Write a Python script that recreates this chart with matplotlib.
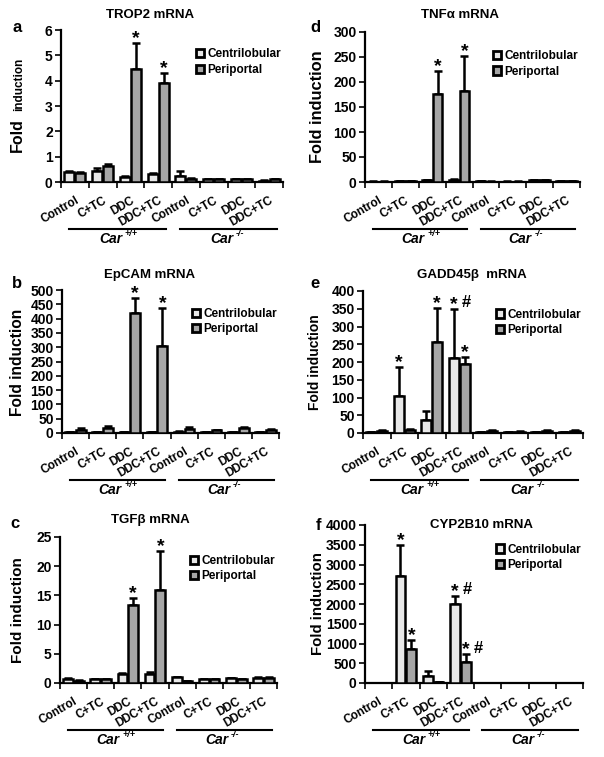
import numpy as np
import matplotlib.pyplot as plt
from matplotlib.patches import Patch

plt.rcParams['font.family'] = ['Liberation Sans', 'DejaVu Sans']
plt.rcParams['font.weight'] = 'bold'

W, H = 604, 757

# datos
grupos = ["Control", "C+TC", "DDC", "DDC+TC", "Control", "C+TC", "DDC", "DDC+TC"]

trop2_cen = [0.40, 0.45, 0.20, 0.30, 0.25, 0.10, 0.10, 0.05]
trop2_cen_err = [0.04, 0.10, 0.03, 0.05, 0.17, 0.02, 0.02, 0.02]
trop2_per = [0.35, 0.62, 4.45, 3.90, 0.12, 0.10, 0.10, 0.10]
trop2_per_err = [0.05, 0.08, 1.05, 0.40, 0.03, 0.02, 0.02, 0.03]

tnf_cen = [1, 2, 4, 5, 2, 1, 4, 2]
tnf_cen_err = [0.5, 0.5, 1, 1, 0.5, 0.5, 1, 0.5]
tnf_per = [1, 2, 175, 181, 1, 1, 4, 2]
tnf_per_err = [0.5, 0.5, 47, 71, 0.5, 0.5, 1, 0.5]

epcam_cen = [3, 3, 2, 2, 5, 3, 3, 3]
epcam_cen_err = [1, 1, 1, 1, 1, 1, 1, 1]
epcam_per = [12, 18, 418, 305, 15, 10, 18, 10]
epcam_per_err = [5, 5, 54, 132, 5, 2, 3, 4]

gadd_cen = [2, 105, 37, 210, 2, 2, 3, 2]
gadd_cen_err = [1, 80, 25, 140, 1, 1, 1, 1]
gadd_per = [6, 8, 255, 195, 6, 4, 7, 6]
gadd_per_err = [2, 2, 98, 18, 2, 1, 2, 3]

tgf_cen = [0.7, 0.6, 1.5, 1.6, 1.0, 0.6, 0.8, 0.9]
tgf_cen_err = [0.1, 0.1, 0.2, 0.2, 0.1, 0.1, 0.1, 0.1]
tgf_per = [0.4, 0.6, 13.3, 15.9, 0.3, 0.6, 0.6, 0.8]
tgf_per_err = [0.1, 0.1, 1.3, 6.7, 0.1, 0.1, 0.1, 0.2]

cyp_cen = [10, 2700, 180, 2000, 5, 5, 5, 5]
cyp_cen_err = [2, 800, 120, 200, 2, 2, 2, 2]
cyp_per = [10, 870, 15, 530, 5, 5, 5, 5]
cyp_per_err = [2, 230, 3, 200, 2, 2, 2, 2]

# marcas (grupo, barra 0=cen 1=per, texto)
marcas_a = [(2, 1, "*"), (3, 1, "*")]
marcas_d = [(2, 1, "*"), (3, 1, "*")]
marcas_b = [(2, 1, "*"), (3, 1, "*")]
marcas_e = [(1, 0, "*"), (2, 1, "*"), (3, 0, "*#"), (3, 1, "*")]
marcas_c = [(2, 1, "*"), (3, 1, "*")]
marcas_f = [(1, 0, "*"), (1, 1, "*"), (3, 0, "*#"), (3, 1, "*#")]

col_cen = "#e8e8e8"
col_per = "#a6a6a6"


def px_ax(fig, l, r, t, b):
    return fig.add_axes([l / W, 1 - b / H, (r - l) / W, (b - t) / H])


def panel(ax, cen, cen_err, per, per_err, ymax, ystep, marcas):
    x = np.arange(len(grupos))
    w = 0.36
    kw = dict(edgecolor="black", linewidth=1.8, zorder=3)
    ax.bar(x - w / 2 - 0.02, cen, w, color=col_cen, **kw)
    ax.bar(x + w / 2 + 0.02, per, w, color=col_per, **kw)
    ebk = dict(fmt="none", ecolor="black", elinewidth=1.8, capsize=3, capthick=1.8, zorder=2)
    ax.errorbar(x - w / 2 - 0.02, cen, yerr=[np.zeros(len(x)), cen_err], **ebk)
    ax.errorbar(x + w / 2 + 0.02, per, yerr=[np.zeros(len(x)), per_err], **ebk)
    ax.set_xlim(-0.5, 7.5)
    ax.set_ylim(0, ymax)
    ax.set_yticks(np.arange(0, ymax + ystep / 2, ystep))
    ax.set_xticks(x)
    ax.set_xticklabels(grupos, rotation=30, ha="right", rotation_mode="anchor", fontsize=8.5)
    ax.set_xticks(np.arange(-0.5, 8), minor=True)
    ax.tick_params(axis="x", which="major", length=0, pad=9)
    ax.tick_params(axis="x", which="minor", length=4, width=1.2, direction="out")
    ax.tick_params(axis="y", length=4, width=1.2, direction="out", labelsize=10, pad=2)
    for s in ["top", "right"]:
        ax.spines[s].set_visible(False)
    for s in ["left", "bottom"]:
        ax.spines[s].set_linewidth(1.6)
    # marcas de significancia
    for g, b, t in marcas:
        vals = (cen, per)[b]
        errs = (cen_err, per_err)[b]
        xb = g + (-1 if b == 0 else 1) * (w / 2 + 0.02)
        yb = vals[g] + errs[g]
        ax.annotate("*", (xb, yb), xytext=(0, -3), textcoords="offset points",
                    ha="center", va="bottom", fontsize=14, annotation_clip=False)
        if "#" in t:
            ax.annotate("#", (xb, yb), xytext=(9, -1), textcoords="offset points",
                        ha="center", va="bottom", fontsize=12, annotation_clip=False)
    # leyenda
    hs = [Patch(facecolor=col_cen, edgecolor="black", linewidth=2, label="Centrilobular"),
          Patch(facecolor=col_per, edgecolor="black", linewidth=2, label="Periportal")]
    ax.legend(handles=hs, loc="upper right", bbox_to_anchor=(1.04, 0.95), frameon=False,
              handlelength=0.7, handleheight=0.7, handletextpad=0.3, labelspacing=0.3,
              fontsize=8.5)
    # lineas de genotipo
    hpx = ax.get_position().height * H
    ylin = -47 / hpx
    ytxt = -57 / hpx
    trans = ax.get_xaxis_transform()
    ax.plot([-0.2, 3.3], [ylin, ylin], color="black", lw=1.5, transform=trans, clip_on=False)
    ax.plot([3.8, 7.3], [ylin, ylin], color="black", lw=1.5, transform=trans, clip_on=False)
    for xc, sup in [(1.55, "+/+"), (5.55, "-/-")]:
        ax.annotate("Car", (xc, ytxt), xycoords=trans, xytext=(3, 0), textcoords="offset points",
                    ha="right", va="center", fontsize=10, style="italic", annotation_clip=False)
        ax.annotate(sup, (xc, ytxt), xycoords=trans, xytext=(5, 4), textcoords="offset points",
                    ha="left", va="center", fontsize=6.5, style="italic", annotation_clip=False)


fig = plt.figure(figsize=(W / 100, H / 100), dpi=100)

ax_a = px_ax(fig, 61, 283, 30, 182)
panel(ax_a, trop2_cen, trop2_cen_err, trop2_per, trop2_per_err, 6, 1, marcas_a)
ax_d = px_ax(fig, 365, 580, 32, 182)
panel(ax_d, tnf_cen, tnf_cen_err, tnf_per, tnf_per_err, 300, 50, marcas_d)
ax_b = px_ax(fig, 62, 279, 290, 433)
panel(ax_b, epcam_cen, epcam_cen_err, epcam_per, epcam_per_err, 500, 50, marcas_b)
ax_e = px_ax(fig, 363, 583, 291, 433)
panel(ax_e, gadd_cen, gadd_cen_err, gadd_per, gadd_per_err, 400, 50, marcas_e)
ax_c = px_ax(fig, 60, 277, 537, 683)
panel(ax_c, tgf_cen, tgf_cen_err, tgf_per, tgf_per_err, 25, 5, marcas_c)
ax_f = px_ax(fig, 365, 583, 525, 683)
panel(ax_f, cyp_cen, cyp_cen_err, cyp_per, cyp_per_err, 4000, 500, marcas_f)

# etiquetas del eje y
etiquetas_y = [(318, 107, 11.8), (18, 362, 11.2), (315, 362, 10), (18, 610, 11), (318, 604, 10.8)]
for xp, yp, fs in etiquetas_y:
    fig.text(xp / W, 1 - yp / H, "Fold induction", rotation=90, ha="center", va="center", fontsize=fs)
# en el panel a "induction" va mas pequeno, misma linea base
fig.text(22 / W, 1 - 135 / H, "Fold", rotation=90, rotation_mode="anchor",
         ha="center", va="baseline", fontsize=11.5)
fig.text(22 / W, 1 - 84 / H, "induction", rotation=90, rotation_mode="anchor",
         ha="center", va="baseline", fontsize=8.5)

# titulos y letras
titulos = [("TROP2 mRNA", 150, 15), ("TNF\u03b1 mRNA", 460, 15), ("EpCAM mRNA", 150, 275),
           ("GADD45\u03b2  mRNA", 472, 275), ("TGF\u03b2 mRNA", 150, 520), ("CYP2B10 mRNA", 482, 525)]
for t, xp, yp in titulos:
    fig.text(xp / W, 1 - yp / H, t, ha="center", va="center", fontsize=9.5)
letras = [("a", 17, 28), ("d", 315, 28), ("b", 17, 283), ("e", 315, 283), ("c", 15, 523), ("f", 318, 525)]
for t, xp, yp in letras:
    fig.text(xp / W, 1 - yp / H, t, ha="center", va="center", fontsize=12)

fig.savefig("out.png", dpi=100)
